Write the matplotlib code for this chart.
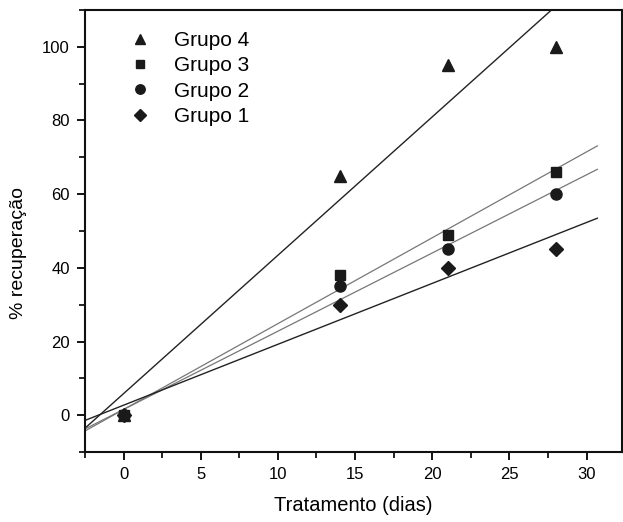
import numpy as np
import matplotlib
matplotlib.use("Agg")
import matplotlib.pyplot as plt
from matplotlib.ticker import MultipleLocator

plt.rcParams['font.family'] = ['Liberation Sans', 'DejaVu Sans']

dias = [0, 14, 21, 28]
grupo4 = [0, 65, 95, 100]
grupo3 = [0, 38, 49, 66]
grupo2 = [0, 35, 45, 60]
grupo1 = [0, 30, 40, 45]
labels = ["Grupo 4", "Grupo 3", "Grupo 2", "Grupo 1"]

fig = plt.figure(figsize=(6.23, 5.22), dpi=100)
ax = fig.add_axes([0.1364, 0.134, 0.862, 0.847])

series = [(grupo4, '^', 8.5, '#222222', 1.0),
          (grupo3, 's', 7, '#777777', 0.9),
          (grupo2, 'o', 8, '#777777', 0.9),
          (grupo1, 'D', 7.5, '#222222', 1.0)]

xf = np.array([-2.5, 30.7])
for (vals, m, ms, lc, lw), lab in zip(series, labels):
    k, b = np.polyfit(dias, vals, 1)
    ax.plot(xf, k * xf + b, color=lc, lw=lw, zorder=2)
    ax.plot(dias, vals, linestyle='none', marker=m, ms=ms, color='#1a1a1a',
            label=lab, zorder=3)

ax.set_xlim(-2.5, 32.3)
ax.set_ylim(-10, 110)
ax.xaxis.set_major_locator(MultipleLocator(5))
ax.xaxis.set_minor_locator(MultipleLocator(2.5))
ax.yaxis.set_major_locator(MultipleLocator(20))
ax.yaxis.set_minor_locator(MultipleLocator(10))
ax.tick_params(which='major', direction='out', length=6, width=1.3, labelsize=12, pad=5)
ax.tick_params(which='minor', direction='out', length=4, width=1.2)
ax.tick_params(top=False, right=False)
for s in ax.spines.values():
    s.set_linewidth(1.5)
    s.set_color('#111111')

ax.set_xlabel("Tratamento (dias)", fontsize=14.5, labelpad=10)
ax.set_ylabel("% recuperação", fontsize=14)
ax.yaxis.set_label_coords(-0.108, 0.45)

ax.legend(loc='upper left', bbox_to_anchor=(0.037, 0.985), frameon=False,
          fontsize=15, handletextpad=0.6, labelspacing=0.3, markerscale=0.85,
          borderaxespad=0.3)

fig.savefig("out.png", dpi=100)
